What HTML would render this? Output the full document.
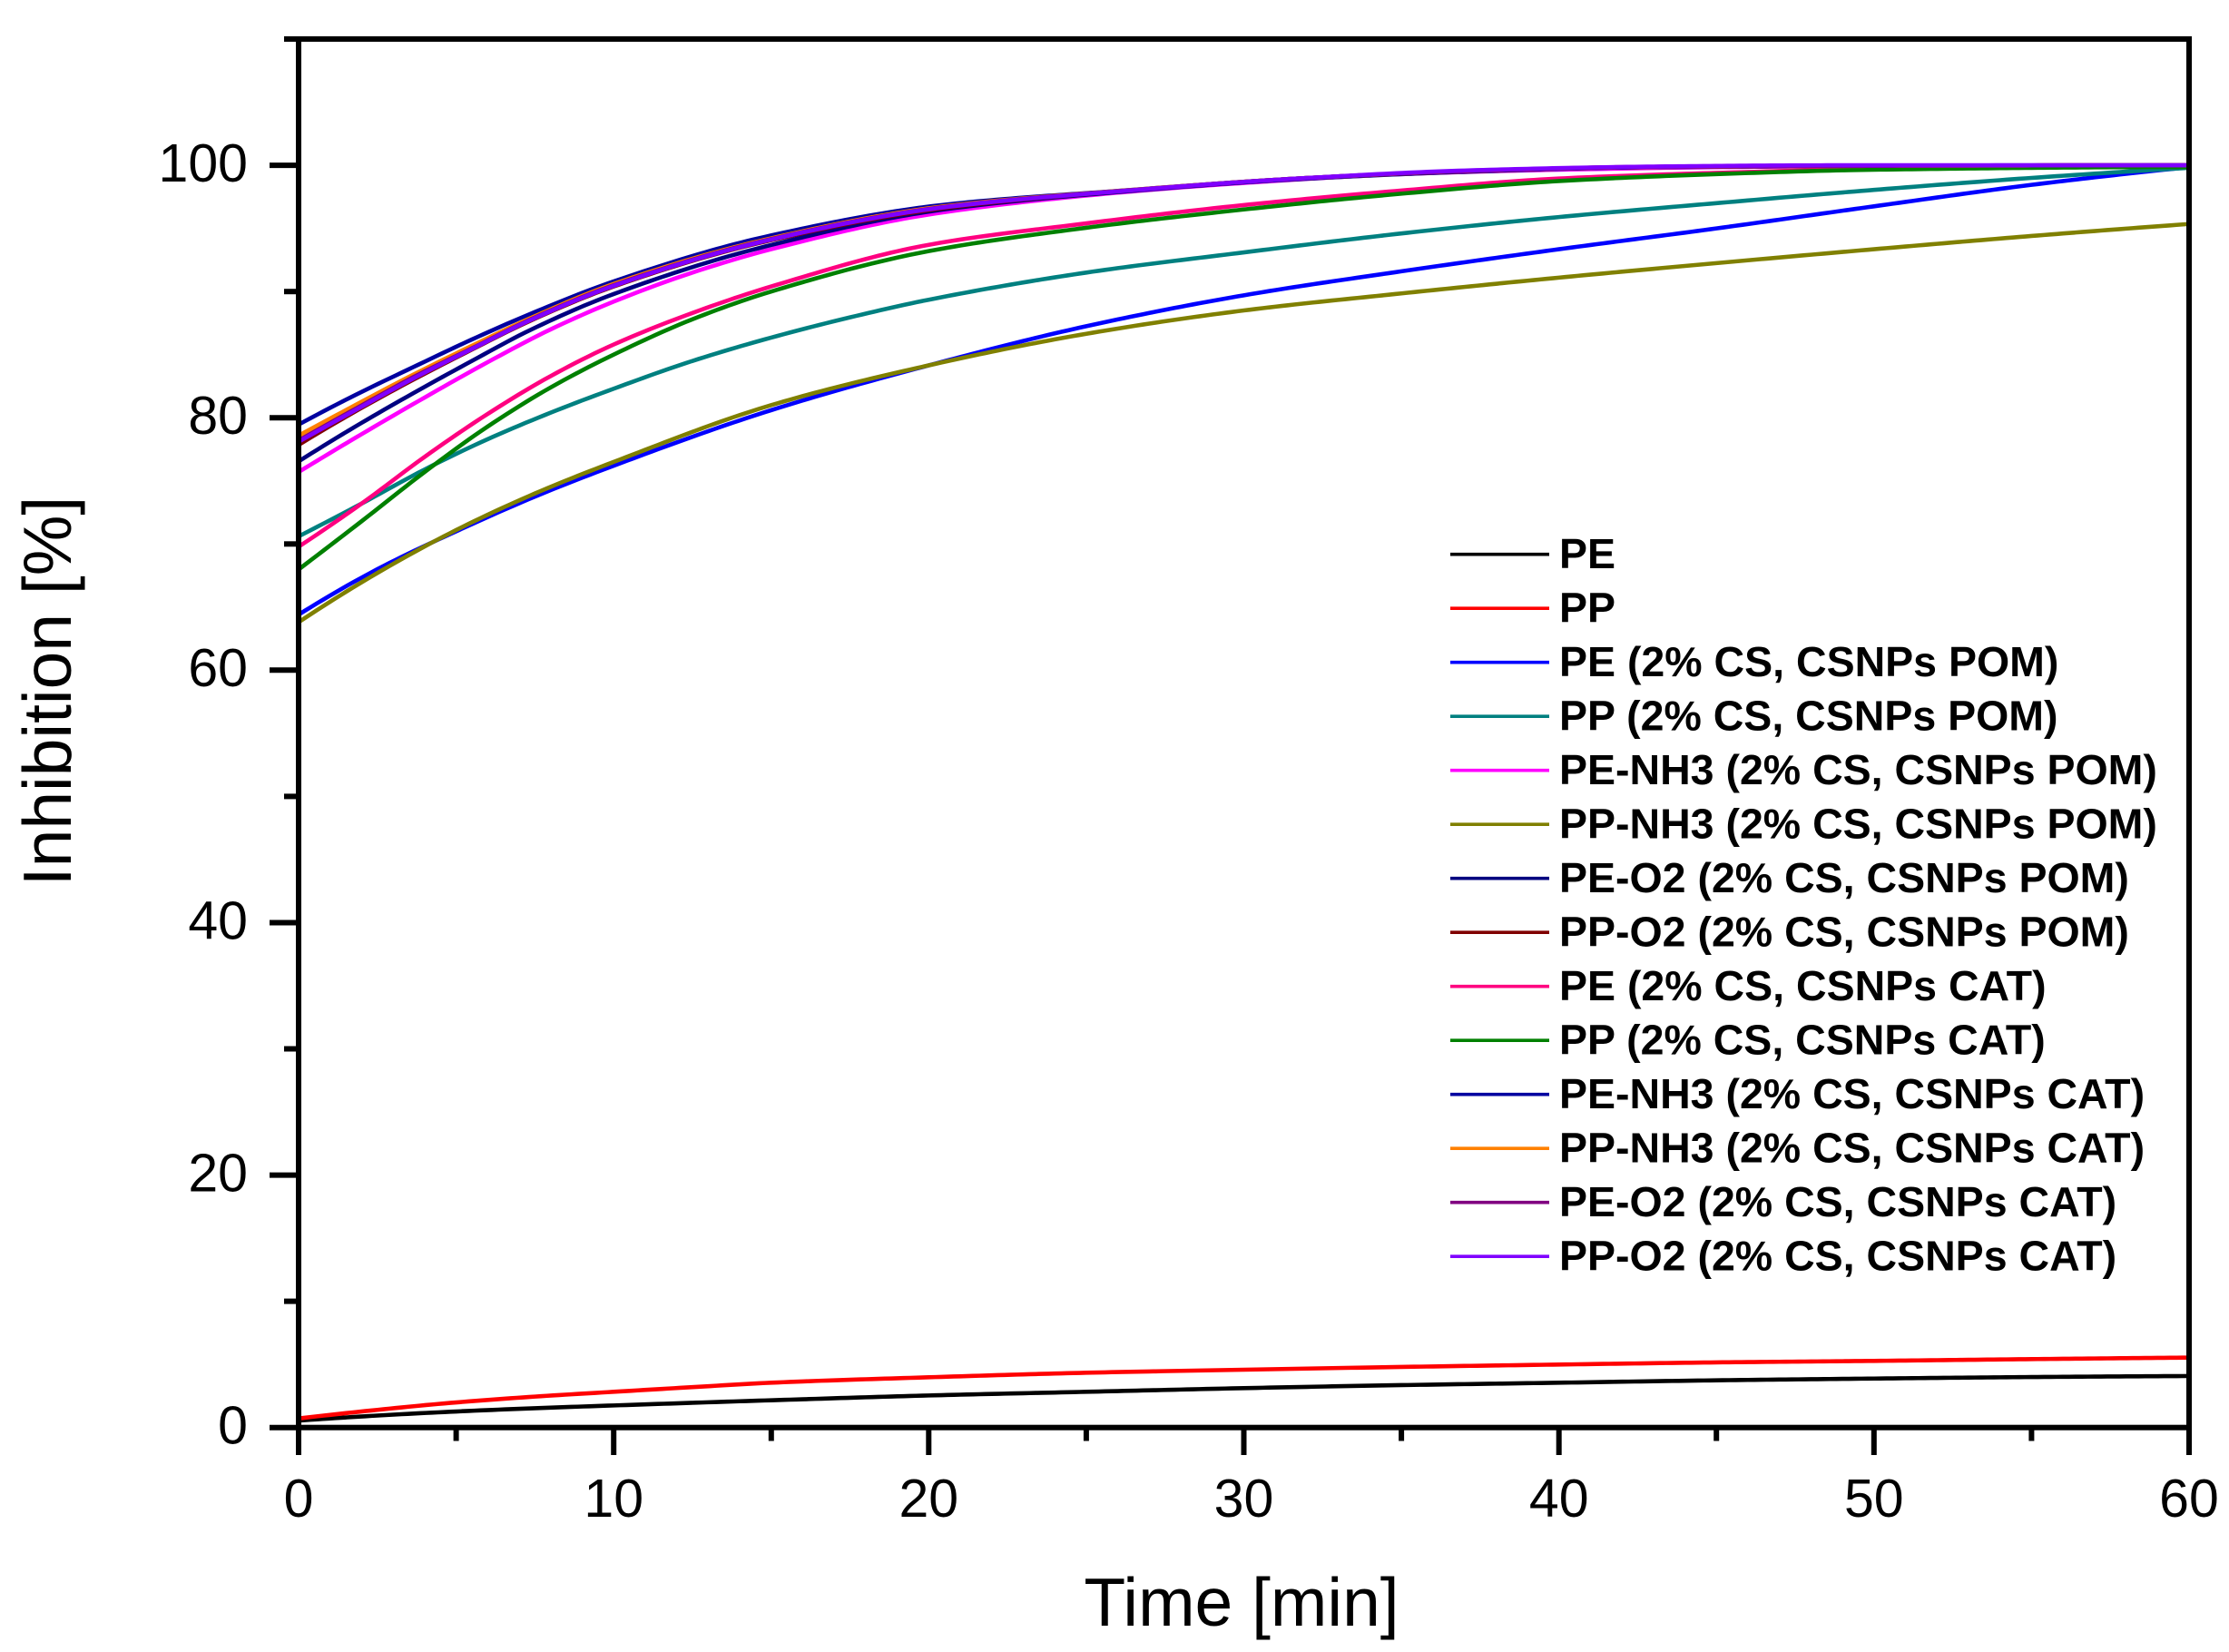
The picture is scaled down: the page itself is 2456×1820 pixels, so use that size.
<!DOCTYPE html>
<html>
<head>
<meta charset="utf-8">
<style>
  html, body { margin: 0; padding: 0; background: #ffffff; }
  svg { display: block; }
  .tl { font-family: "Liberation Sans", Arial, sans-serif; font-size: 59px; fill: #000; }
  .at { font-family: "Liberation Sans", Arial, sans-serif; font-size: 75px; fill: #000; }
  .lg { font-family: "Liberation Sans", Arial, sans-serif; font-size: 46.5px; font-weight: bold; fill: #000; }
  .c { fill: none; stroke-width: 4.6; stroke-linejoin: round; stroke-linecap: round; }
</style>
</head>
<body>
<svg width="2456" height="1820" viewBox="0 0 2456 1820" xmlns="http://www.w3.org/2000/svg">
  <rect x="0" y="0" width="2456" height="1820" fill="#ffffff"/>

  <!-- curves in data coordinates -->
  <g transform="matrix(34.717 0 0 -13.906 329 1572.7)">
    <polyline class="c" vector-effect="non-scaling-stroke" stroke="#000000" points="0,0.55 2.5,0.95 5,1.27 7.5,1.53 10,1.75 15,2.16 20,2.54 25,2.83 30,3.12 35,3.36 40,3.55 45,3.74 50,3.88 55,4.0 60,4.08"/>
    <polyline class="c" vector-effect="non-scaling-stroke" stroke="#FF0000" points="0,0.72 2.5,1.4 5,1.99 7.5,2.45 10,2.83 12.5,3.2 15,3.55 20,3.98 25,4.34 30,4.58 35,4.80 40,4.99 45,5.16 50,5.28 55,5.42 60,5.54"/>
    <polyline class="c" vector-effect="non-scaling-stroke" stroke="#0000FF" points="0,64.4 2.5,68.0 5,71.0 7.5,73.75 10,76.2 15,80.6 20,84.15 25,87.25 30,89.7 35,91.6 40,93.35 45,95.0 50,96.75 55,98.45 60,99.85"/>
    <polyline class="c" vector-effect="non-scaling-stroke" stroke="#008080" points="0,70.6 2,73.2 4,75.9 6,78.3 8,80.4 10,82.3 12.5,84.5 15,86.35 17.5,87.95 20,89.35 25,91.5 30,93.1 35,94.6 40,95.9 45,97.0 50,98.05 55,99.0 60,99.8"/>
    <polyline class="c" vector-effect="non-scaling-stroke" stroke="#FF00FF" points="0,75.7 2,78.7 4,81.6 6,84.4 8,87.0 10,89.2 12.5,91.5 15,93.35 20,96.1 25,97.6 30,98.6 35,99.3 40,99.65 45,99.85 50,99.95 60,100"/>
    <polyline class="c" vector-effect="non-scaling-stroke" stroke="#808000" points="0,63.8 2.5,67.7 5,71.1 7.5,74.0 10,76.5 15,81.0 20,84.15 25,86.65 30,88.5 35,89.85 40,91.1 45,92.25 50,93.35 55,94.4 60,95.35"/>
    <polyline class="c" vector-effect="non-scaling-stroke" stroke="#000080" points="0,76.54 1.8,79.3 3.63,81.93 5.5,84.5 7.37,86.97 10,89.8 14.8,93.56 20.48,96.5 26.1,97.9 31.7,98.9 37.2,99.5 43,99.85 60,100"/>
    <polyline class="c" vector-effect="non-scaling-stroke" stroke="#800000" points="0,77.85 1.8,80.5 3.63,83.0 5.5,85.4 7.37,87.7 10,90.4 14.8,93.95 20.48,96.6 26.1,97.95 31.7,98.95 37.2,99.55 43,99.88 60,100"/>
    <polyline class="c" vector-effect="non-scaling-stroke" stroke="#FF0080" points="0,69.78 2,73.2 4,76.9 6,80.3 8,83.3 10,85.8 12.5,88.3 15,90.4 20,93.7 25,95.4 30,96.85 35,98.0 40,98.95 45,99.4 50,99.7 60,99.9"/>
    <polyline class="c" vector-effect="non-scaling-stroke" stroke="#008000" points="0,67.98 2,71.8 4,75.7 6,79.3 8,82.4 10,85.0 12.5,87.8 15,90.0 20,93.2 25,95.05 30,96.5 35,97.75 40,98.75 45,99.3 50,99.65 60,99.86"/>
    <polyline class="c" vector-effect="non-scaling-stroke" stroke="#0000A0" points="0,79.46 1.8,81.8 3.63,84.0 5.5,86.2 7.37,88.24 10,90.8 14.8,94.33 20.48,96.87 26.1,97.99 31.7,98.95 37.2,99.55 43,99.86 48.7,99.97 60,100"/>
    <polyline class="c" vector-effect="non-scaling-stroke" stroke="#FF8000" points="0,78.58 1.8,81.0 3.63,83.4 5.5,85.7 7.37,87.9 10,90.6 14.8,94.1 20.48,96.75 26.1,97.98 31.7,98.95 37.2,99.55 43,99.87 60,100"/>
    <polyline class="c" vector-effect="non-scaling-stroke" stroke="#800080" points="0,78.2 1.8,80.7 3.63,83.2 5.5,85.5 7.37,87.8 10,90.5 14.8,94.04 20.48,96.7 26.1,97.97 31.7,98.95 37.2,99.55 43,99.87 60,100"/>
    <polyline class="c" vector-effect="non-scaling-stroke" stroke="#8000FF" points="0,78.1 1.8,80.6 3.63,83.1 5.5,85.45 7.37,87.75 10,90.45 14.8,94.0 20.48,96.67 26.1,97.95 31.7,98.95 37.2,99.6 43,99.9 48.7,100 60,100"/>
  </g>

  <!-- frame -->
  <rect x="329" y="43" width="2083" height="1529.7" fill="none" stroke="#000" stroke-width="6"/>

  <!-- x ticks -->
  <g stroke="#000" stroke-width="6">
    <line x1="329" y1="1572.7" x2="329" y2="1603"/>
    <line x1="676.2" y1="1572.7" x2="676.2" y2="1603"/>
    <line x1="1023.3" y1="1572.7" x2="1023.3" y2="1603"/>
    <line x1="1370.5" y1="1572.7" x2="1370.5" y2="1603"/>
    <line x1="1717.7" y1="1572.7" x2="1717.7" y2="1603"/>
    <line x1="2064.8" y1="1572.7" x2="2064.8" y2="1603"/>
    <line x1="2412" y1="1572.7" x2="2412" y2="1603"/>
    <line x1="502.6" y1="1572.7" x2="502.6" y2="1587.5"/>
    <line x1="849.8" y1="1572.7" x2="849.8" y2="1587.5"/>
    <line x1="1196.9" y1="1572.7" x2="1196.9" y2="1587.5"/>
    <line x1="1544.1" y1="1572.7" x2="1544.1" y2="1587.5"/>
    <line x1="1891.2" y1="1572.7" x2="1891.2" y2="1587.5"/>
    <line x1="2238.4" y1="1572.7" x2="2238.4" y2="1587.5"/>
  </g>
  <!-- y ticks -->
  <g stroke="#000" stroke-width="6">
    <line x1="329" y1="1572.7" x2="297" y2="1572.7"/>
    <line x1="329" y1="1294.6" x2="297" y2="1294.6"/>
    <line x1="329" y1="1016.5" x2="297" y2="1016.5"/>
    <line x1="329" y1="738.3" x2="297" y2="738.3"/>
    <line x1="329" y1="460.2" x2="297" y2="460.2"/>
    <line x1="329" y1="182.1" x2="297" y2="182.1"/>
    <line x1="329" y1="1433.6" x2="313" y2="1433.6"/>
    <line x1="329" y1="1155.5" x2="313" y2="1155.5"/>
    <line x1="329" y1="877.4" x2="313" y2="877.4"/>
    <line x1="329" y1="599.3" x2="313" y2="599.3"/>
    <line x1="329" y1="321.2" x2="313" y2="321.2"/>
    <line x1="329" y1="43" x2="313" y2="43"/>
  </g>

  <!-- x tick labels -->
  <g class="tl" text-anchor="middle">
    <text x="329" y="1671">0</text>
    <text x="676.2" y="1671">10</text>
    <text x="1023.3" y="1671">20</text>
    <text x="1370.5" y="1671">30</text>
    <text x="1717.7" y="1671">40</text>
    <text x="2064.8" y="1671">50</text>
    <text x="2412" y="1671">60</text>
  </g>
  <!-- y tick labels -->
  <g class="tl" text-anchor="end">
    <text x="273" y="1590.5">0</text>
    <text x="273" y="1312.4">20</text>
    <text x="273" y="1034.3">40</text>
    <text x="273" y="756.1">60</text>
    <text x="273" y="478">80</text>
    <text x="273" y="199.9">100</text>
  </g>

  <!-- axis titles -->
  <text class="at" x="1368" y="1791" text-anchor="middle">Time [min]</text>
  <text class="at" x="0" y="0" text-anchor="middle" transform="translate(78 761.5) rotate(-90)">Inhibition [%]</text>

  <!-- legend -->
  <g stroke-width="3.6">
    <line x1="1598" y1="610.7" x2="1707" y2="610.7" stroke="#000000"/>
    <line x1="1598" y1="670.2" x2="1707" y2="670.2" stroke="#FF0000"/>
    <line x1="1598" y1="729.7" x2="1707" y2="729.7" stroke="#0000FF"/>
    <line x1="1598" y1="789.2" x2="1707" y2="789.2" stroke="#008080"/>
    <line x1="1598" y1="848.7" x2="1707" y2="848.7" stroke="#FF00FF"/>
    <line x1="1598" y1="908.2" x2="1707" y2="908.2" stroke="#808000"/>
    <line x1="1598" y1="967.7" x2="1707" y2="967.7" stroke="#000080"/>
    <line x1="1598" y1="1027.2" x2="1707" y2="1027.2" stroke="#800000"/>
    <line x1="1598" y1="1086.7" x2="1707" y2="1086.7" stroke="#FF0080"/>
    <line x1="1598" y1="1146.2" x2="1707" y2="1146.2" stroke="#008000"/>
    <line x1="1598" y1="1205.7" x2="1707" y2="1205.7" stroke="#0000A0"/>
    <line x1="1598" y1="1265.2" x2="1707" y2="1265.2" stroke="#FF8000"/>
    <line x1="1598" y1="1324.7" x2="1707" y2="1324.7" stroke="#800080"/>
    <line x1="1598" y1="1384.2" x2="1707" y2="1384.2" stroke="#8000FF"/>
  </g>
  <g class="lg">
    <text x="1718" y="626">PE</text>
    <text x="1718" y="685.5">PP</text>
    <text x="1718" y="745">PE (2% CS, CSNPs POM)</text>
    <text x="1718" y="804.5">PP (2% CS, CSNPs POM)</text>
    <text x="1718" y="864">PE-NH3 (2% CS, CSNPs POM)</text>
    <text x="1718" y="923.5">PP-NH3 (2% CS, CSNPs POM)</text>
    <text x="1718" y="983">PE-O2 (2% CS, CSNPs POM)</text>
    <text x="1718" y="1042.5">PP-O2 (2% CS, CSNPs POM)</text>
    <text x="1718" y="1102">PE (2% CS, CSNPs CAT)</text>
    <text x="1718" y="1161.5">PP (2% CS, CSNPs CAT)</text>
    <text x="1718" y="1221">PE-NH3 (2% CS, CSNPs CAT)</text>
    <text x="1718" y="1280.5">PP-NH3 (2% CS, CSNPs CAT)</text>
    <text x="1718" y="1340">PE-O2 (2% CS, CSNPs CAT)</text>
    <text x="1718" y="1399.5">PP-O2 (2% CS, CSNPs CAT)</text>
  </g>
</svg>
<script>
(function(){
  var pls = document.querySelectorAll('polyline.c');
  for (var k = 0; k < pls.length; k++) {
    var pl = pls[k];
    var raw = pl.getAttribute('points').trim().split(/\s+/);
    var xs = [], ys = [];
    for (var i = 0; i < raw.length; i++) {
      var p = raw[i].split(',');
      xs.push(parseFloat(p[0])); ys.push(parseFloat(p[1]));
    }
    var n = xs.length;
    if (n < 3) continue;
    var h = [], d = [];
    for (i = 0; i < n - 1; i++) { h.push(xs[i+1]-xs[i]); d.push((ys[i+1]-ys[i])/h[i]); }
    var m = new Array(n);
    for (i = 1; i < n - 1; i++) {
      if (d[i-1]*d[i] <= 0) { m[i] = 0; }
      else {
        var w1 = 2*h[i] + h[i-1], w2 = h[i] + 2*h[i-1];
        m[i] = (w1 + w2) / (w1/d[i-1] + w2/d[i]);
      }
    }
    function endSlope(h0, h1, d0, d1) {
      var s = ((2*h0 + h1)*d0 - h0*d1) / (h0 + h1);
      if (s*d0 <= 0) s = 0;
      else if (d0*d1 <= 0 && Math.abs(s) > Math.abs(3*d0)) s = 3*d0;
      return s;
    }
    m[0] = endSlope(h[0], h[1], d[0], d[1]);
    m[n-1] = endSlope(h[n-2], h[n-3], d[n-2], d[n-3]);
    var out = [];
    var step = 0.2;
    for (i = 0; i < n - 1; i++) {
      var x0 = xs[i], x1 = xs[i+1], y0 = ys[i], y1 = ys[i+1], hh = h[i];
      var segs = Math.max(2, Math.ceil(hh / step));
      for (var j = 0; j < segs; j++) {
        var t = j / segs;
        var t2 = t*t, t3 = t2*t;
        var h00 = 2*t3 - 3*t2 + 1, h10 = t3 - 2*t2 + t, h01 = -2*t3 + 3*t2, h11 = t3 - t2;
        var y = h00*y0 + h10*hh*m[i] + h01*y1 + h11*hh*m[i+1];
        out.push((x0 + t*hh).toFixed(3) + ',' + y.toFixed(3));
      }
    }
    out.push(xs[n-1] + ',' + ys[n-1]);
    pl.setAttribute('points', out.join(' '));
  }
})();
</script>
</body>
</html>
